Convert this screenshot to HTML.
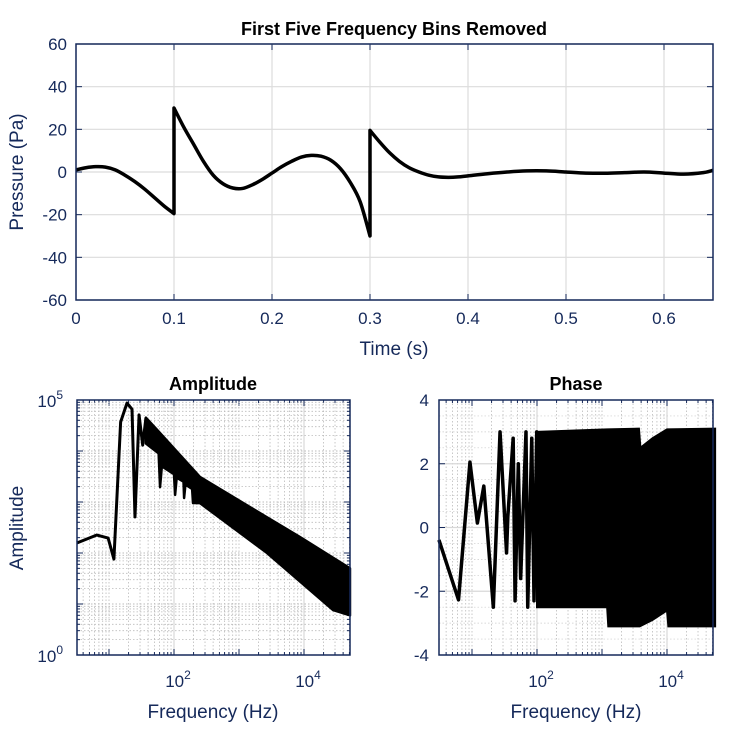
<!DOCTYPE html>
<html><head><meta charset="utf-8"><style>
html,body{margin:0;padding:0;background:#fff;}
svg{display:block;font-family:"Liberation Sans",Arial,sans-serif;}
.tk{fill:#15295a;font-size:17px;}
.lb{fill:#15295a;font-size:19px;}
.tt{fill:#000;font-size:18px;font-weight:bold;}
</style></head><body>
<svg id="fig" width="750" height="750" viewBox="0 0 750 750" xmlns="http://www.w3.org/2000/svg"></svg>
<script>
// ---- Top chart data (time s, pressure Pa); jumps split into segments
const timeSeg1 = [0,0.01,0.02,0.03,0.04,0.05,0.06,0.07,0.08,0.09,0.1];
const presSeg1 = [1,2,2.5,2.3,1,-1.5,-4.5,-8,-12,-16,-19.5];
const timeSeg2 = [0.1,0.11,0.12,0.13,0.14,0.15,0.16,0.17,0.18,0.19,0.2,0.21,0.22,0.23,0.24,0.25,0.26,0.27,0.28,0.29,0.3];
const presSeg2 = [30,21,13,5,-1.5,-5.5,-7.5,-7.7,-6,-3.5,-0.5,2.5,5,7,7.8,7.4,5.5,1.5,-5,-14,-30];
const timeSeg3 = [0.3,0.31,0.32,0.33,0.34,0.35,0.36,0.37,0.38,0.39,0.4,0.42,0.44,0.46,0.48,0.5,0.52,0.54,0.56,0.58,0.6,0.62,0.64,0.65];
const presSeg3 = [19.5,14,9,5,2,0,-1.5,-2.3,-2.5,-2.3,-1.8,-0.8,0,0.5,0.5,0,-0.5,-0.6,-0.3,0,-0.5,-1,-0.3,0.8];
const timeTicks = [0,0.1,0.2,0.3,0.4,0.5,0.6];
const presTicks = [-60,-40,-20,0,20,40,60];

// ---- Amplitude data
const ampLowFreq = [3.2,6.5,9.7,11.9,15.1,18.9,22.6,25.1,29,33,37];
const ampLowVal  = [157,225,196,76,37000,87000,66000,510,51000,13000,45000];
const ampUpFreq  = [37,55,251,2700,8700,51000];
const ampUpVal   = [45000,26000,3100,500,205,50];
const ampLoFreq  = [37,58,61,65,100,104,110,140,143,150,190,196,251,2700,28000,51000];
const ampLoVal   = [14000,9000,1960,5000,3500,1380,3000,2500,1200,2200,1800,955,950,100,7.6,6];

// ---- Phase data
const phLowFreq = [3.1,6.2,9.3,12.1,15.2,21.3,27,34,35.6,43,46,51.6,56,67.7,72,83,90,99,104];
const phLowVal  = [-0.39,-2.27,2.05,0.14,1.3,-2.5,3.0,-0.8,0.35,2.8,-2.3,2.0,-1.6,3.0,-2.5,2.8,-2.3,3.0,-2.5];
const phUpFreq  = [100,1200,3700,3900,6000,10000,55000];
const phUpVal   = [3.0,3.08,3.1,2.5,2.8,3.08,3.1];
const phLoFreq  = [100,1200,1250,3800,6000,10000,10500,55000];
const phLoVal   = [-2.5,-2.5,-3.1,-3.1,-2.9,-2.6,-3.1,-3.1];
const logTicks = [2,4];
const ampTicks = [0,5];
const phTicks = [-4,-2,0,2,4];

const NS="http://www.w3.org/2000/svg";
const svg=document.getElementById('fig');
function mk(tag,attrs,parent){const e=document.createElementNS(NS,tag);for(const k in attrs)e.setAttribute(k,attrs[k]);(parent||svg).appendChild(e);return e;}
const navy="#15295a";

// ===== TOP =====
const T={x0:76,x1:713,y0:44,y1:300};
const tx=t=>T.x0+t/0.65*(T.x1-T.x0);
const ty=p=>T.y1-(p+60)/120*(T.y1-T.y0);
const gTop=mk('g',{});


mk('rect',{x:T.x0,y:T.y0,width:T.x1-T.x0,height:T.y1-T.y0,fill:'#fff'},gTop);
timeTicks.forEach(t=>{
  const l=mk('line',{x1:tx(t),x2:tx(t),y1:T.y0,y2:T.y1,stroke:'#dcdcdc','stroke-width':1.2},gTop);
  
  mk('line',{x1:tx(t),x2:tx(t),y1:T.y1,y2:T.y1-6,stroke:navy},gTop);
  mk('line',{x1:tx(t),x2:tx(t),y1:T.y0,y2:T.y0+6,stroke:navy},gTop);
  const s=mk('text',{x:tx(t),y:T.y1+24,'text-anchor':'middle',class:'tk'},gTop);s.textContent=String(t);
  
});
presTicks.forEach(p=>{
  const l=mk('line',{x1:T.x0,x2:T.x1,y1:ty(p),y2:ty(p),stroke:'#dcdcdc','stroke-width':1.2},gTop);
  
  mk('line',{x1:T.x0,x2:T.x0+6,y1:ty(p),y2:ty(p),stroke:navy},gTop);
  mk('line',{x1:T.x1,x2:T.x1-6,y1:ty(p),y2:ty(p),stroke:navy},gTop);
  const s=mk('text',{x:T.x0-9,y:ty(p)+6,'text-anchor':'end',class:'tk'},gTop);s.textContent=String(p);
  
});
function smooth(xs,ys,fx,fy){
  const P=xs.map((x,i)=>[fx(x),fy(ys[i])]);
  let d='M'+P[0][0]+','+P[0][1];
  for(let i=0;i<P.length-1;i++){
    const p0=P[Math.max(0,i-1)],p1=P[i],p2=P[i+1],p3=P[Math.min(P.length-1,i+2)];
    const c1=[p1[0]+(p2[0]-p0[0])/6,p1[1]+(p2[1]-p0[1])/6];
    const c2=[p2[0]-(p3[0]-p1[0])/6,p2[1]-(p3[1]-p1[1])/6];
    d+=`C${c1[0]},${c1[1]} ${c2[0]},${c2[1]} ${p2[0]},${p2[1]}`;
  }
  return d;
}
let dTop=smooth(timeSeg1,presSeg1,tx,ty)+'L'+tx(0.1)+','+ty(presSeg2[0])+smooth(timeSeg2,presSeg2,tx,ty).replace(/^M[^C]*/,'')
 +'L'+tx(0.3)+','+ty(presSeg3[0])+smooth(timeSeg3,presSeg3,tx,ty).replace(/^M[^C]*/,'');
const pl=mk('path',{d:dTop,fill:'none',stroke:'#000','stroke-width':3.5,'stroke-linejoin':'round'},gTop);

mk('rect',{x:T.x0,y:T.y0,width:T.x1-T.x0,height:T.y1-T.y0,fill:'none',stroke:navy,'stroke-width':1.5},gTop);
let t1=mk('text',{x:394,y:35,'text-anchor':'middle',class:'tt'});t1.textContent='First Five Frequency Bins Removed';

let t2=mk('text',{x:394,y:355,'text-anchor':'middle',class:'lb'});t2.textContent='Time (s)';

let t3=mk('text',{x:0,y:0,'text-anchor':'middle',class:'lb',transform:'translate(23,172) rotate(-90)'});t3.textContent='Pressure (Pa)';


// ===== shared log-x helpers =====
function logGrid(g,A,fx){
  for(let e=0;e<=4;e++)for(let m=1;m<10;m++){
    const lf=e+Math.log10(m); const x=fx(Math.pow(10,lf));
    if(x<=A.x0||x>=A.x1)continue;
    const major=(m===1&&(e===2||e===4));
    mk('line',{x1:x,x2:x,y1:A.y0,y2:A.y1,stroke:major?'#d8d8d8':'#bbb','stroke-width':major?1.2:0.8,'stroke-dasharray':major?'':'1.5,2'},g);
    mk('line',{x1:x,x2:x,y1:A.y1,y2:A.y1-(m===1?6:3),stroke:navy},g);
    mk('line',{x1:x,x2:x,y1:A.y0,y2:A.y0+(m===1?6:3),stroke:navy},g);
  }
}
function bandPath(fx,fy,uf,uv,lf,lv){
  let d='M'+uf.map((f,i)=>fx(f)+','+fy(uv[i])).join('L');
  for(let i=lf.length-1;i>=0;i--) d+='L'+fx(lf[i])+','+fy(lv[i]);
  return d+'Z';
}

// ===== AMPLITUDE =====
const A={x0:77,x1:350,y0:400,y1:655};
const ax=f=>174+(Math.log10(f)-2)*65;
const ay=a=>A.y1-Math.log10(a)*51;
const gA=mk('g',{});

logGrid(gA,A,ax);
for(let e=0;e<5;e++)for(let m=1;m<10;m++){
  const y=ay(m*Math.pow(10,e)); if(y<=A.y0||y>=A.y1)continue;
  mk('line',{x1:A.x0,x2:A.x1,y1:y,y2:y,stroke:'#bbb','stroke-width':m===1?1:0.8,'stroke-dasharray':'1.5,2'},gA);
  mk('line',{x1:A.x0,x2:A.x0+(m===1?6:3),y1:y,y2:y,stroke:navy},gA);
  mk('line',{x1:A.x1,x2:A.x1-(m===1?6:3),y1:y,y2:y,stroke:navy},gA);
}
let dA='M'+ampLowFreq.map((f,i)=>ax(f)+','+ay(ampLowVal[i])).join('L');
const aLine=mk('path',{d:dA,fill:'none',stroke:'#000','stroke-width':3,'stroke-linejoin':'round'},gA);

const aBand=mk('path',{d:bandPath(ax,ay,ampUpFreq,ampUpVal,ampLoFreq,ampLoVal),fill:'#000',stroke:'#000','stroke-width':2.5,'stroke-linejoin':'round'},gA);

mk('rect',{x:A.x0,y:A.y0,width:A.x1-A.x0,height:A.y1-A.y0,fill:'none',stroke:navy,'stroke-width':1.5},gA);
function powLabel(g,x,y,base,exp,anchor,name){
  const s=mk('text',{x:x,y:y,'text-anchor':anchor,class:'tk'},g);
  
  s.appendChild(document.createTextNode(base));
  const sp=mk('tspan',{dy:-8,'font-size':12},s);sp.textContent=exp;
}
logTicks.forEach(e=>powLabel(gA,ax(Math.pow(10,e))+4,A.y1+32,'10',String(e),'middle','x-tick-label'));
ampTicks.forEach(e=>powLabel(gA,A.x0-14,ay(Math.pow(10,e))+7,'10',String(e),'end','y-tick-label'));
let at=mk('text',{x:213,y:390,'text-anchor':'middle',class:'tt'});at.textContent='Amplitude';

let ax1=mk('text',{x:213,y:718,'text-anchor':'middle',class:'lb'});ax1.textContent='Frequency (Hz)';

let ay1=mk('text',{x:0,y:0,'text-anchor':'middle',class:'lb',transform:'translate(23,528) rotate(-90)'});ay1.textContent='Amplitude';


// ===== PHASE =====
const P={x0:439,x1:713,y0:400,y1:655};
const px=f=>537+(Math.log10(f)-2)*65;
const py=v=>P.y1-(v+4)/8*(P.y1-P.y0);
const gP=mk('g',{});

logGrid(gP,P,px);
for(let v=-3.5;v<4;v+=0.5){
  const major=Number.isInteger(v/2);
  mk('line',{x1:P.x0,x2:P.x1,y1:py(v),y2:py(v),stroke:major?'#d8d8d8':'#ccc','stroke-width':major?1.2:0.7,'stroke-dasharray':major?'':'1.5,2'},gP);
}
phTicks.forEach(v=>{
  mk('line',{x1:P.x0,x2:P.x0+6,y1:py(v),y2:py(v),stroke:navy},gP);
  mk('line',{x1:P.x1,x2:P.x1-6,y1:py(v),y2:py(v),stroke:navy},gP);
  const s=mk('text',{x:P.x0-10,y:py(v)+6,'text-anchor':'end',class:'tk'},gP);s.textContent=String(v);
  
});
let dP='M'+phLowFreq.map((f,i)=>px(f)+','+py(phLowVal[i])).join('L');
const pLine=mk('path',{d:dP,fill:'none',stroke:'#000','stroke-width':3.5,'stroke-linejoin':'round'},gP);

const pBand=mk('path',{d:bandPath(px,py,phUpFreq,phUpVal,phLoFreq,phLoVal),fill:'#000',stroke:'#000','stroke-width':2},gP);

mk('rect',{x:P.x0,y:P.y0,width:P.x1-P.x0,height:P.y1-P.y0,fill:'none',stroke:navy,'stroke-width':1.5},gP);
logTicks.forEach(e=>powLabel(gP,px(Math.pow(10,e))+4,P.y1+32,'10',String(e),'middle','x-tick-label'));
let pt=mk('text',{x:576,y:390,'text-anchor':'middle',class:'tt'});pt.textContent='Phase';

let px1=mk('text',{x:576,y:718,'text-anchor':'middle',class:'lb'});px1.textContent='Frequency (Hz)';

</script>
</body></html>
